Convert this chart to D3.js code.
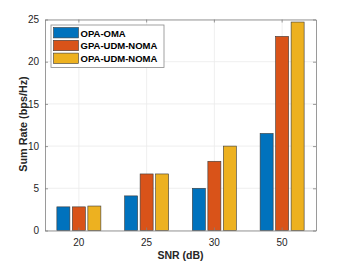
<!DOCTYPE html>
<html>
<head>
<meta charset="utf-8">
<script src="https://cdn.jsdelivr.net/npm/d3@7"></script>
<style>
  body { margin: 0; background: #fff; }
  text { font-family: "Liberation Sans", Arial, sans-serif; }
</style>
</head>
<body>
<svg width="349" height="262"></svg>
<script>
var categories = ["20", "25", "30", "50"];
var seriesNames = ["OPA-OMA", "GPA-UDM-NOMA", "OPA-UDM-NOMA"];
var seriesColors = ["#0072BD", "#D95319", "#EDB120"];
var opaOma = [2.8, 4.1, 5.0, 11.5];
var gpaUdmNoma = [2.8, 6.7, 8.2, 23.0];
var opaUdmNoma = [2.9, 6.7, 10.0, 24.7];
var yTicks = [0, 5, 10, 15, 20, 25];

var series = [opaOma, gpaUdmNoma, opaUdmNoma];

var svg = d3.select("svg");
var margin = {left: 45, right: 33, top: 19.5, bottom: 31.5};
var W = 349, H = 262;

var x = d3.scaleBand()
  .domain(categories)
  .range([margin.left, W - margin.right])
  .padding(0);

var y = d3.scaleLinear()
  .domain([0, 25])
  .range([H - margin.bottom, margin.top]);

var inner = d3.scaleBand()
  .domain(d3.range(series.length))
  .range([-22, 22])
  .paddingInner(0.16);

// grid
var grid = svg.append("g");
grid.selectAll(".gy").data(yTicks).enter().append("line")
  .attr("x1", margin.left).attr("x2", W - margin.right)
  .attr("y1", function(d) { return y(d); }).attr("y2", function(d) { return y(d); })
  .attr("stroke", "#ebebeb").attr("stroke-width", 0.8);
grid.selectAll(".gx").data(categories).enter().append("line")
  .attr("x1", function(d) { return x(d) + x.bandwidth() / 2; })
  .attr("x2", function(d) { return x(d) + x.bandwidth() / 2; })
  .attr("y1", margin.top).attr("y2", H - margin.bottom)
  .attr("stroke", "#ebebeb").attr("stroke-width", 0.8);

// bars
series.forEach(function(vals, si) {
  svg.append("g").selectAll("rect").data(vals).enter().append("rect")
    .attr("x", function(d, i) { return x(categories[i]) + x.bandwidth() / 2 + inner(si); })
    .attr("width", inner.bandwidth())
    .attr("y", function(d) { return y(d); })
    .attr("height", function(d) { return y(0) - y(d); })
    .attr("fill", seriesColors[si])
    .attr("stroke", "#3a3a3a")
    .attr("stroke-width", 0.6);
});

// axes box
var axisColor = "#262626";
var yAxis = d3.axisLeft(y).tickValues(yTicks).tickSizeInner(-3).tickSizeOuter(0).tickPadding(6);
svg.append("g").attr("transform", "translate(" + margin.left + ",0)").call(yAxis);
var yAxisR = d3.axisRight(y).tickValues(yTicks).tickSizeInner(-3).tickSizeOuter(0).tickFormat("");
svg.append("g").attr("transform", "translate(" + (W - margin.right) + ",0)").call(yAxisR);

var xAxis = d3.axisBottom(x).tickSizeInner(-3).tickSizeOuter(0).tickPadding(8);
svg.append("g").attr("transform", "translate(0," + (H - margin.bottom) + ")").call(xAxis);
var xAxisT = d3.axisTop(x).tickSizeInner(-3).tickSizeOuter(0).tickFormat("");
svg.append("g").attr("transform", "translate(0," + margin.top + ")").call(xAxisT);

svg.selectAll(".domain").attr("stroke", "#808080").attr("stroke-width", 0.8);
svg.selectAll(".tick line").attr("stroke", "#808080").attr("stroke-width", 0.8);
svg.selectAll(".tick text").attr("fill", axisColor).style("font-size", "10px")
  .style("font-family", "'Liberation Sans', Arial, sans-serif");

// axis titles
svg.append("text")
  .attr("x", (margin.left + W - margin.right) / 2)
  .attr("y", 258.5)
  .attr("text-anchor", "middle")
  .attr("font-weight", "bold")
  .attr("font-size", "10.5px")
  .attr("fill", axisColor)
  .text("SNR (dB)");

svg.append("text")
  .attr("transform", "translate(26.5,124) rotate(-90)")
  .attr("text-anchor", "middle")
  .attr("font-weight", "bold")
  .attr("font-size", "10.8px")
  .attr("fill", axisColor)
  .text("Sum Rate (bps/Hz)");

// legend
var lg = svg.append("g").attr("transform", "translate(51,25)");
lg.append("rect")
  .attr("width", 113).attr("height", 42.5)
  .attr("fill", "#fff").attr("stroke", "#8a8a8a").attr("stroke-width", 0.8);
seriesNames.forEach(function(name, i) {
  lg.append("rect")
    .attr("x", 2.5).attr("y", 2.5 + i * 12.8)
    .attr("width", 25).attr("height", 10.4)
    .attr("fill", seriesColors[i])
    .attr("stroke", "#3a3a3a").attr("stroke-width", 0.6);
  lg.append("text")
    .attr("x", 29.5).attr("y", 11.5 + i * 12.8)
    .attr("font-weight", "bold")
    .attr("font-size", "9.5px")
    .attr("fill", "#000")
    .text(name);
});
</script>
</body>
</html>
